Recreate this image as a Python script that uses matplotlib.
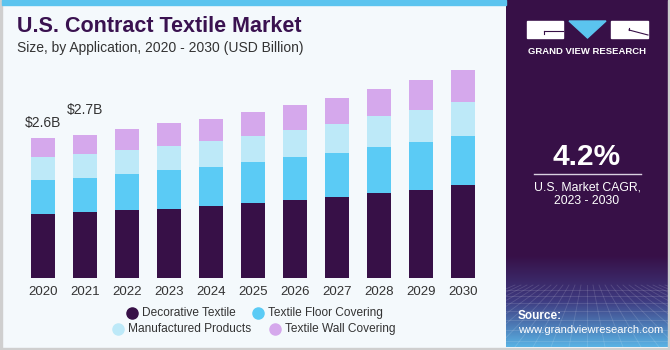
import matplotlib
matplotlib.use("Agg")
import matplotlib.pyplot as plt
import numpy as np
from matplotlib.patches import Rectangle, Polygon
from matplotlib.lines import Line2D

plt.rcParams['font.family'] = ['Liberation Sans', 'DejaVu Sans']

years = ['2020', '2021', '2022', '2023', '2024', '2025', '2026', '2027', '2028', '2029', '2030']
decorative = [1.19, 1.22, 1.27, 1.29, 1.35, 1.39, 1.45, 1.51, 1.58, 1.64, 1.73]
floor_cov = [0.63, 0.64, 0.67, 0.72, 0.71, 0.77, 0.80, 0.81, 0.86, 0.89, 0.92]
manufactured = [0.43, 0.44, 0.45, 0.44, 0.50, 0.48, 0.51, 0.54, 0.58, 0.60, 0.63]
wall_cov = [0.35, 0.36, 0.39, 0.43, 0.41, 0.45, 0.47, 0.50, 0.50, 0.55, 0.59]
series_names = ['Decorative Textile', 'Textile Floor Covering', 'Manufactured Products', 'Textile Wall Covering']
value_labels = {0: '$2.6B', 1: '$2.7B'}

colors = ['#371047', '#5BCBF5', '#BDE9F8', '#D5A8EC']
W, H = 670, 350

def fx(px):
    return px / W

def fy(py):
    return 1 - py / H

fig = plt.figure(figsize=(6.7, 3.5), dpi=100)
fig.patch.set_facecolor('#F4F9FC')

# borders and top stripe
fig.patches.append(Rectangle((0, 0), fx(2), 1, transform=fig.transFigure, color='#CFCFCF', zorder=0))
fig.patches.append(Rectangle((0, 0), 1, fy(348), transform=fig.transFigure, color='#CFCFCF', zorder=0))
fig.patches.append(Rectangle((fx(2), fy(5)), fx(504), fy(0) - fy(5), transform=fig.transFigure, color='#5BC4EF', zorder=0))

# main bar axes
ax_left_px, ax_right_px = 10, 500
base_px, top_px = 278, 60
scale = 53.7
ax = fig.add_axes([fx(ax_left_px), fy(base_px), fx(ax_right_px - ax_left_px), (base_px - top_px) / H])
ax.set_facecolor('none')
x = np.arange(len(years))
ax.set_xlim((ax_left_px - 43) / 42, (ax_right_px - 43) / 42)
ax.set_ylim(0, (base_px - top_px) / scale)
bottom = np.zeros(len(years))
for vals, c in zip([decorative, floor_cov, manufactured, wall_cov], colors):
    ax.bar(x, vals, bottom=bottom, width=0.57, color=c, edgecolor='none', zorder=2)
    bottom = bottom + np.array(vals)
label_offsets_px = {0: 15, 1: 25.5}
for i, lab in value_labels.items():
    ax.text(x[i], bottom[i] + label_offsets_px[i] / scale, lab, ha='center', va='center',
            fontsize=10, color='#333333')
for s in ax.spines.values():
    s.set_visible(False)
ax.set_yticks([])
ax.set_xticks(x)
ax.set_xticklabels(years, fontsize=9.5, color='#333333')
ax.tick_params(axis='x', length=0, pad=6)

# titles
fig.text(fx(17), fy(27), 'U.S. Contract Textile Market', fontsize=15.5, fontweight='bold', color='#3A1250', va='center', ha='left')
fig.text(fx(17), fy(48), 'Size, by Application, 2020 - 2030 (USD Billion)', fontsize=10, color='#333333', va='center', ha='left')

# legend
leg_items = [(132, 313, 0), (258, 313, 1), (118, 329, 2), (275, 329, 3)]
for px, py, k in leg_items:
    fig.lines.append(Line2D([fx(px)], [fy(py)], transform=fig.transFigure, marker='o', markersize=8,
                            color=colors[k], linestyle='none'))
    fig.text(fx(px + 10), fy(py), series_names[k], fontsize=8.6, color='#333333', va='center', ha='left')

# right panel with gradient
pax = fig.add_axes([fx(506), fy(347), fx(668 - 506), (347 - 0) / H])
n = 347
grad = np.zeros((n, 10, 3))
top_c = np.array([0x37, 0x10, 0x47]) / 255
mid_c = np.array([0x3E, 0x3A, 0x80]) / 255
bot_c = np.array([0x5A, 0xB5, 0xE6]) / 255
for r in range(n):
    if r < 255:
        c = top_c
    elif r < 300:
        t = (r - 255) / 45
        c = top_c * (1 - t) + mid_c * t
    else:
        t = (r - 300) / 47
        c = mid_c * (1 - t) + bot_c * t
    grad[r, :, :] = c
pax.imshow(grad, aspect='auto', extent=[0, 162, 347, 0], zorder=0)
# faint grid lines in the bottom
for k in range(-12, 20):
    pax.plot([81 + k * 6, 81 + k * 18], [285, 347], color='white', alpha=0.14, lw=0.6)
for yy in [290, 296, 303, 311, 320, 330, 341]:
    pax.plot([0, 162], [yy, yy], color='white', alpha=0.14, lw=0.6)
pax.set_xlim(0, 162)
pax.set_ylim(347, 0)
pax.axis('off')
fig.patches.append(Rectangle((fx(668), 0), fx(2), 1, transform=fig.transFigure, color='#CFCFCF', zorder=0))

# logo (pixel coords in panel: subtract 506)
def px_panel(p):
    return p - 506
pax.add_patch(Rectangle((px_panel(527), 21), 36, 17, color='white', zorder=3))
pax.add_patch(Polygon([[px_panel(569), 21], [px_panel(606), 21], [px_panel(587.5), 38]], closed=True, color='#5BC4EF', zorder=3))
pax.add_patch(Rectangle((px_panel(611), 21), 37, 17, color='white', zorder=3))
pax.plot([px_panel(544), px_panel(563)], [30.5, 30.5], color='#371047', lw=0.8, zorder=4)
pax.plot([px_panel(544), px_panel(544)], [30.5, 34], color='#371047', lw=0.8, zorder=4)
pax.plot([px_panel(629), px_panel(629)], [28, 30], color='#371047', lw=0.8, zorder=4)
pax.plot([px_panel(629), px_panel(648)], [30, 35], color='#371047', lw=0.8, zorder=4)
pax.text(px_panel(587.5), 51, 'GRAND VIEW RESEARCH', color='white', fontsize=6.8, fontweight='bold',
         ha='center', va='center', zorder=4)

# CAGR
pax.text(px_panel(587), 157, '4.2%', color='white', fontsize=21.5, fontweight='bold', ha='center', va='center', zorder=4)
pax.plot([px_panel(534), px_panel(641)], [173.5, 173.5], color='#D8D0E0', lw=1, zorder=4)
pax.text(px_panel(587), 187, 'U.S. Market CAGR,', color='white', fontsize=8.8, ha='center', va='center', zorder=4)
pax.text(px_panel(587), 201, '2023 - 2030', color='white', fontsize=8.8, ha='center', va='center', zorder=4)

# Source
pax.text(px_panel(518), 316, 'Source:', color='white', fontsize=8.5, fontweight='bold', ha='left', va='center', zorder=4)
pax.text(px_panel(518), 330, 'www.grandviewresearch.com', color='white', fontsize=8.0, ha='left', va='center', zorder=4)

fig.savefig('out.png', dpi=100, facecolor=fig.get_facecolor())
